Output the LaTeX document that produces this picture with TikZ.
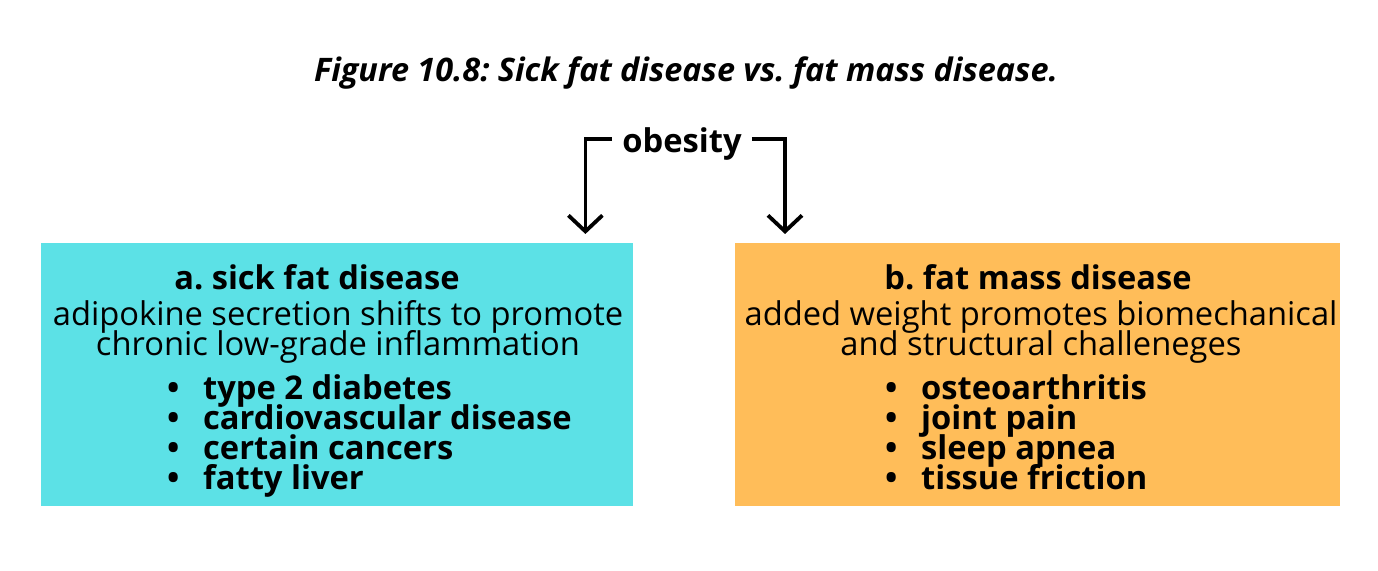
\documentclass[tikz,border=0pt]{standalone}
\usepackage{fontspec}
\setmainfont{Open Sans}
\usetikzlibrary{arrows.meta}
\definecolor{sickcyan}{HTML}{5CE1E6}
\definecolor{massorange}{HTML}{FFBD59}
\newcommand{\tightlines}{\lineskiplimit=-40pt\relax\lineskip=0pt\relax}
\tikzset{
  panel/.style={rectangle, draw=none, inner sep=0pt, minimum width=#1, minimum height=263pt, anchor=north west},
  bodytxt/.style={inner sep=0pt, align=center, anchor=base, font=\fontsize{32.7}{30}\selectfont\tightlines},
  headtxt/.style={inner sep=0pt, anchor=base, font=\fontsize{32.6}{32}\selectfont\bfseries},
  listtxt/.style={inner sep=0pt, align=left, anchor=base west, font=\fontsize{32.7}{30.3}\selectfont\bfseries\tightlines},
  arr/.style={line width=3.8pt, -{Straight Barb[length=16pt,width=34pt,line width=3.8pt]}},
}
\newcommand{\bul}{\makebox[36pt][l]{•}}
\begin{document}
\frenchspacing
\begin{tikzpicture}[x=1pt,y=1pt]
\useasboundingbox (0,0) rectangle (1378,570);
\fill[white] (0,0) rectangle (1378,570);
\node[inner sep=0pt, anchor=base, font=\fontsize{32.4}{36}\selectfont\bfseries\itshape] (title) at (686,488) {Figure 10.8: Sick fat disease vs. fat mass disease.};
\node[anchor=base, font=\fontsize{32.7}{36}\selectfont\bfseries, inner xsep=10pt] (obesity) at (682,417) {obesity};
\node[panel=592pt, fill=sickcyan] (a) at (41,327) {};
\node[panel=605pt, fill=massorange] (b) at (735,327) {};
\node[headtxt] (ah) at (317,280) {a. sick fat disease};
\node[bodytxt] (ab) at (338,214) {adipokine secretion shifts to promote\\chronic low-grade inflammation};
\node[listtxt] (al) at (167,80) {\bul type 2 diabetes\\\bul cardiovascular disease\\\bul certain cancers\\\bul fatty liver};
\node[headtxt] (bh) at (1038,280) {b. fat mass disease};
\node[bodytxt] (bb) at (1041,214) {added weight promotes biomechanical\\and structural challeneges};
\node[listtxt] (bl) at (885,80) {\bul osteoarthritis\\\bul joint pain\\\bul sleep apnea\\\bul tissue friction};
\draw[arr] ([yshift=14pt]obesity.base west) -| ([xshift=-48pt,yshift=9pt]a.north east);
\draw[arr] ([yshift=14pt]obesity.base east) -| ([xshift=50pt,yshift=9pt]b.north west);
\end{tikzpicture}
\end{document}
